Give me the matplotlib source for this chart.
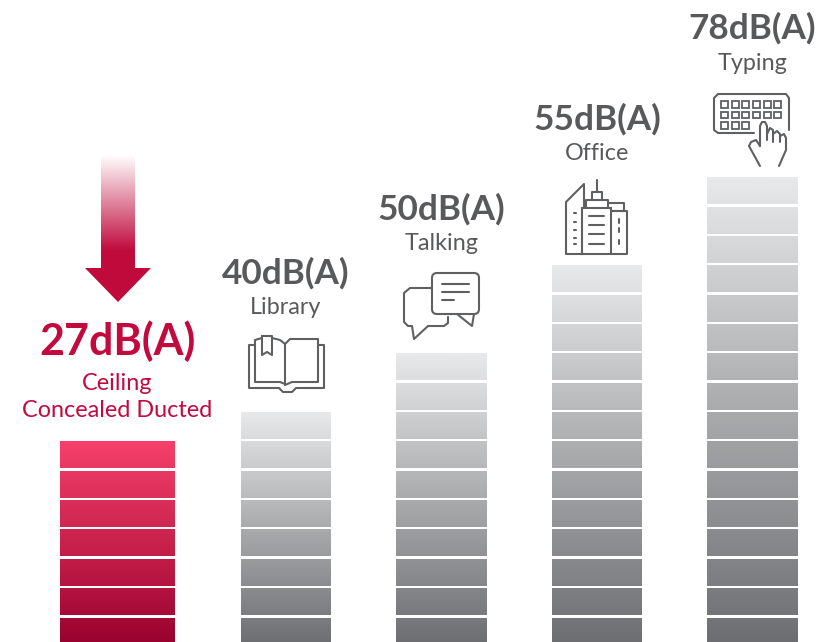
#!/usr/bin/env python3
"""Noise level comparison drawn as stacked block bars."""

import matplotlib
matplotlib.use("Agg")
import matplotlib.pyplot as plt
import numpy as np
from matplotlib.colors import LinearSegmentedColormap
from matplotlib.patches import Polygon, Rectangle, FancyBboxPatch

plt.rcParams["font.family"] = ["Lato", "DejaVu Sans"]

# chart data
levels = ["27dB(A)", "40dB(A)", "50dB(A)", "55dB(A)", "78dB(A)"]
names = ["Ceiling\nConcealed Ducted", "Library", "Talking", "Office", "Typing"]
blocks = [7, 8, 10, 13, 16]

# layout in pixels of the 823x642 picture
W, H = 823, 642
STEP = 29.35
BLOCK = 26.5
LAST_TOP = 618
centers = [117.5, 286, 441.5, 597, 752.5]
widths = [115, 90, 91, 90, 91]
level_y = [341, 273, 209, 119, 28]
name_y = [397, 308, 243, 154, 63]

RED = "#c30a3e"
GREY = "#58595b"
reds = LinearSegmentedColormap.from_list("reds", ["#f5406b", "#c8214c", "#98002e"])
greys = LinearSegmentedColormap.from_list("greys", ["#e8e9ea", "#a9aaac", "#6c6d70"])

fig = plt.figure(figsize=(W / 100, H / 100), dpi=100)
ax = fig.add_axes([0, 0, 1, 1])
ax.set_xlim(0, W)
ax.set_ylim(H, 0)
ax.axis("off")


def draw_bar(cx, width, count, cmap):
    """Stack the blocks up from the bottom edge, the shade runs over the whole bar."""
    for i in range(count):
        y0 = LAST_TOP - (count - 1 - i) * STEP
        shade = np.linspace(i / count, (i + 0.92) / count, 32)[:, None]
        ax.imshow(shade, cmap=cmap, vmin=0, vmax=1, aspect="auto",
                  extent=[cx - width / 2, cx + width / 2, y0 + BLOCK, y0], zorder=2)


for i, count in enumerate(blocks):
    draw_bar(centers[i], widths[i], count, reds if i == 0 else greys)

# labels
for i in range(len(levels)):
    color = RED if i == 0 else GREY
    ax.text(centers[i], level_y[i], levels[i], color=color, ha="center", va="center",
            fontsize=31 if i == 0 else 25.3, fontweight="bold")
    ax.text(centers[i], name_y[i], names[i], color=color, ha="center", va="center",
            fontsize=16.8, linespacing=1.4)

# arrow
fade = np.ones((64, 1, 4))
fade[:, :, :3] = matplotlib.colors.to_rgb("#c00a3c")
fade[:, 0, 3] = np.clip(np.linspace(0.03, 1.2, 64), 0, 1)
ax.imshow(fade, aspect="auto", extent=[101, 135, 270, 157], zorder=3)
ax.add_patch(Polygon([(85, 268), (151, 268), (118, 302)], color="#c00a3c", lw=0, zorder=3))
ax.set_xlim(0, W)
ax.set_ylim(H, 0)


def stroke(pts, lw=1.5, color="#5f6062"):
    xs, ys = zip(*pts)
    ax.plot(xs, ys, color=color, lw=lw, solid_joinstyle="round", solid_capstyle="round", zorder=4)


def round_box(x, y, w, h, r=3, lw=1.5, color="#5f6062"):
    ax.add_patch(FancyBboxPatch((x + r, y + r), w - 2 * r, h - 2 * r,
                                boxstyle=f"round,pad={r},rounding_size={r}",
                                fc="none", ec=color, lw=lw, zorder=4))


# book icon
stroke([(255, 345), (249, 345), (249, 388), (279, 388), (283, 392), (292, 392), (296, 388), (324, 388), (324, 345), (319, 345)])
stroke([(285, 384), (280, 382), (255, 382), (255, 340), (262, 338)])
stroke([(272, 338), (280, 340), (285, 344), (285, 384)])
stroke([(285, 344), (290, 339), (318, 339), (318, 382), (292, 382), (285, 385)])
stroke([(262, 336), (272, 336), (272, 355), (267, 352), (262, 355), (262, 336)])

# speech bubble icon
stroke([(432, 288), (410, 288), (404, 293), (404, 322), (408, 326), (412, 326), (414, 339), (428, 326), (444, 326), (448, 323), (448, 317)])
round_box(432, 273, 47, 41, r=5)
stroke([(457, 314), (472, 326), (474, 314)])
stroke([(442, 284), (469, 284)])
stroke([(442, 292), (469, 292)])
stroke([(442, 300), (454, 300)])

# office icon
stroke([(584, 254), (566, 254), (566, 202), (584, 184), (584, 208)])
ax.add_patch(Rectangle((582, 208), 29, 46, fc="white", ec="#5f6062", lw=1.5, zorder=4))
stroke([(586, 208), (586, 200), (608, 200), (608, 208)])
stroke([(592, 200), (592, 192), (602, 192), (602, 200)])
stroke([(597, 192), (597, 180)])
stroke([(608, 203), (624, 203), (624, 211), (611, 211)])
stroke([(611, 211), (627, 211), (627, 254), (611, 254)])
for y in [216, 225, 234, 244]:
    stroke([(589, y), (604, y)])
for y in [213, 222, 230, 238, 244]:
    stroke([(574, y), (576, y)])
for y in [219, 228, 240]:
    stroke([(619, y), (619, y + 4)])

# keyboard and hand icon
stroke([(754, 133), (718, 133), (714, 130), (714, 98), (718, 94), (786, 94), (789, 98), (789, 130)])
for row in range(3):
    for col in range(6 if row < 2 else 3):
        ax.add_patch(Rectangle((721 + col * 10.7, 101 + row * 10.5), 7, 6.5, fc="none",
                               ec="#5f6062", lw=1.3, zorder=4))
stroke([(760, 146), (760, 126), (762, 122), (765, 122), (767, 126), (767, 140)])
stroke([(767, 134), (770, 128), (773, 130), (773, 142)])
stroke([(773, 134), (777, 131), (780, 134), (780, 142)])
stroke([(780, 136), (784, 134), (786, 138), (786, 150), (779, 166)])
stroke([(760, 146), (756, 140), (751, 142), (749, 146), (760, 166)])

fig.savefig("out.png", dpi=100)
